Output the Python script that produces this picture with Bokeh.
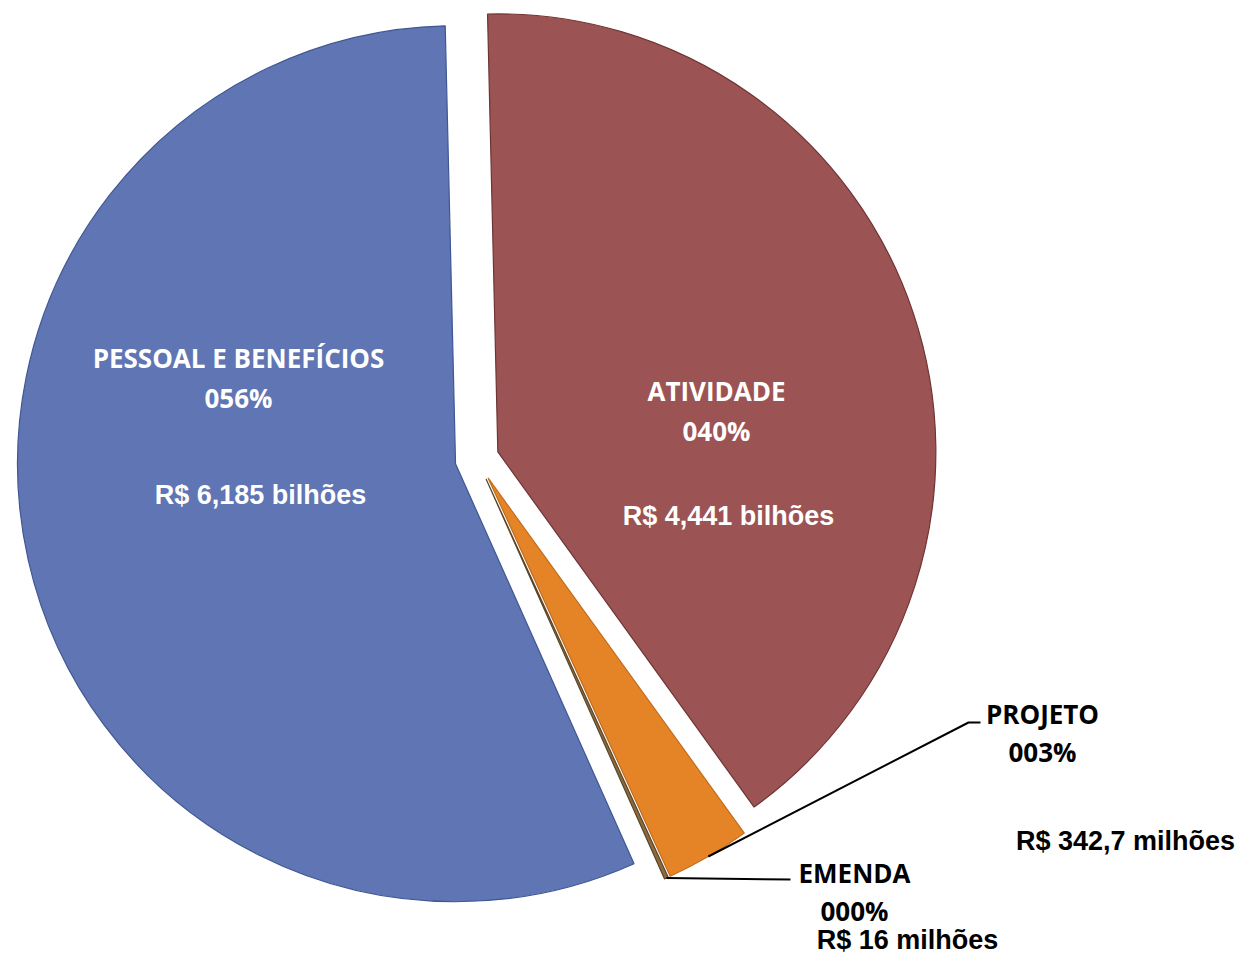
import math
from bokeh.plotting import figure
from bokeh.models import Range1d, ColumnDataSource
from bokeh.core.properties import value
from bokeh.embed import file_html
from bokeh.resources import INLINE

# ---- data ----
categories = ["ATIVIDADE", "PROJETO", "EMENDA", "PESSOAL E BENEFÍCIOS"]
values = [4441.0, 342.7, 16.0, 6185.0]  # R$ milhões
value_labels = ["R$ 4,441 bilhões", "R$ 342,7 milhões", "R$ 16 milhões", "R$ 6,185 bilhões"]

# ---- style / layout ----
fills = ["#9C5353", "#E58426", "#8A6A3E", "#6075B3"]
borders = ["#6E3434", "#C26C1E", "#5C4528", "#3F5793"]
label_colors = ["white", "black", "black", "white"]
W, H = 1237, 957

def sx(x):
    return x

def sy(y):
    return H - y

center = (sx(476.5), sy(458.4))
radius = 438
explode = 22
start_deg = -1.35  # clockwise from 12 o'clock

# label positions (picture px): name, percent, value
name_pos = [(716, 390), (1042, 713), (854, 872), (238, 357)]
pct_pos = [(716, 430), (1042, 751), (854, 910), (238, 397)]
val_pos = [(728, 515), (1125, 840), (907, 939), (260, 494)]
leader_elbow = [None, [(968, 722), (980, 722)], [(790, 879)], None]

total = sum(values)
p = figure(width=W, height=H, x_range=Range1d(0, W), y_range=Range1d(0, H),
           output_backend="svg", toolbar_location=None, min_border=0,
           outline_line_color=None)
p.axis.visible = False
p.grid.visible = False
p.background_fill_color = "white"
p.border_fill_color = "white"

theta = start_deg
for i, v in enumerate(values):
    span = v / total * 360.0
    t0, t1 = theta, theta + span
    tm = (t0 + t1) / 2
    phi_m = math.radians(90 - tm)
    cx = center[0] + explode * math.cos(phi_m)
    cy = center[1] + explode * math.sin(phi_m)
    p.wedge(x=[cx], y=[cy], radius=radius,
            start_angle=math.radians(90 - t0), end_angle=math.radians(90 - t1),
            direction="clock", fill_color=fills[i], line_color=borders[i], line_width=1.2)
    if leader_elbow[i]:
        ax = cx + radius * math.cos(phi_m)
        ay = cy + radius * math.sin(phi_m)
        xs = [ax] + [sx(e[0]) for e in leader_elbow[i]]
        ys = [ay] + [sy(e[1]) for e in leader_elbow[i]]
        p.line(xs, ys, line_color="black", line_width=2)
    theta = t1

pcts = ["%03d%%" % round(v / total * 100) for v in values]
src_name = ColumnDataSource(dict(x=[sx(a) for a, b in name_pos], y=[sy(b) for a, b in name_pos],
                                 t=categories, c=label_colors))
src_pct = ColumnDataSource(dict(x=[sx(a) for a, b in pct_pos], y=[sy(b) for a, b in pct_pos],
                                t=pcts, c=label_colors))
src_val = ColumnDataSource(dict(x=[sx(a) for a, b in val_pos], y=[sy(b) for a, b in val_pos],
                                t=value_labels, c=label_colors))
for src, font, size in [(src_name, "Open Sans", "26px"), (src_pct, "Open Sans", "26px"),
                        (src_val, "Liberation Sans", "27px")]:
    p.text(x="x", y="y", text="t", source=src, text_color="c",
           text_font=value(font), text_font_size=size, text_font_style="bold",
           text_align="center", text_baseline="middle")

open("out.html", "w").write(file_html(p, INLINE))
